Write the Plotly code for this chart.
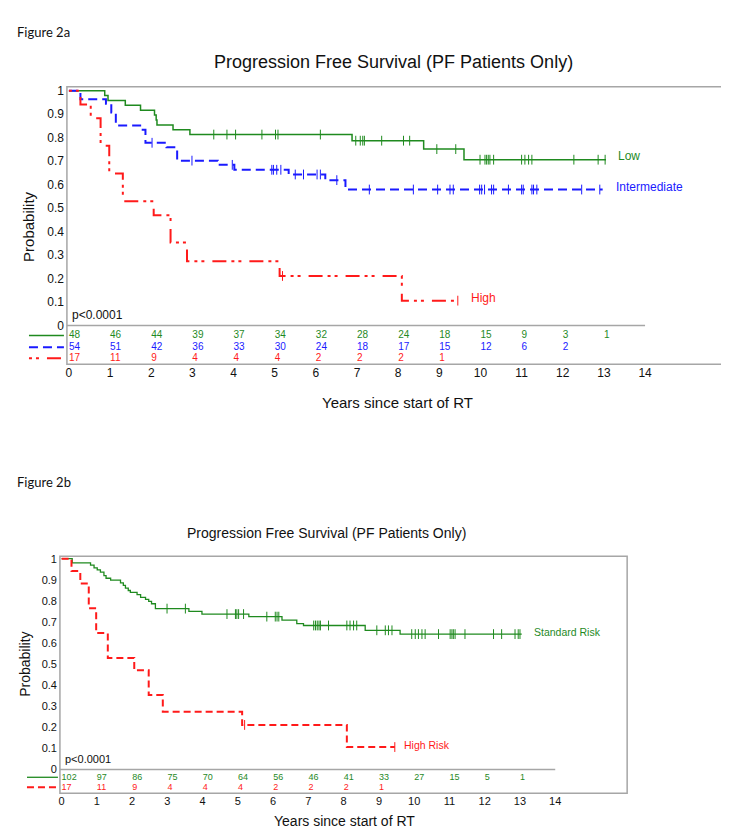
import plotly.graph_objects as go

# ---------------- DATA ----------------
years = list(range(15))
y_ticks = [0, 0.1, 0.2, 0.3, 0.4, 0.5, 0.6, 0.7, 0.8, 0.9, 1.0]
y_tick_text = ["0", "0.1", "0.2", "0.3", "0.4", "0.5", "0.6", "0.7", "0.8", "0.9", "1"]

# Figure 2a - Low
low_t = [0.87, 0.95, 1.37, 1.74, 2.08, 2.12, 2.14, 2.53, 2.94, 6.88, 8.62, 9.60]
low_s = [0.979, 0.958, 0.938, 0.917, 0.896, 0.875, 0.854, 0.833, 0.813, 0.787, 0.751, 0.706]
low_cens = [3.52, 3.84, 4.05, 4.69, 5.02, 5.08, 6.11, 6.97, 7.08, 7.14, 7.18, 7.60, 8.13, 8.28,
            8.94, 9.40, 9.99, 10.11, 10.15, 10.19, 10.23, 10.32, 11.0, 11.08, 11.17, 11.25,
            12.27, 12.86, 13.03]
low_end = 13.05

# Figure 2a - Intermediate
int_t = [0.28, 0.90, 1.03, 1.14, 1.76, 1.86, 2.37, 2.63, 3.62, 4.02, 5.34, 6.23, 6.72]
int_s = [0.963, 0.944, 0.907, 0.852, 0.833, 0.778, 0.759, 0.702, 0.684, 0.663, 0.643, 0.619, 0.579]
int_cens = [2.02, 2.99, 3.97, 4.93, 4.97, 5.05, 5.15, 5.50, 5.70, 6.03, 6.11, 6.51, 7.30, 8.37,
            8.96, 9.26, 9.34, 9.98, 10.03, 10.10, 10.27, 10.32, 10.68, 11.0, 11.04, 11.25,
            11.29, 11.37, 12.46, 12.90]
int_end = 12.97

# Figure 2a / 2b - High
high_t = [0.28, 0.53, 0.77, 0.98, 1.31, 2.06, 2.47, 2.87, 5.12, 8.09]
high_s = [0.941, 0.882, 0.765, 0.647, 0.529, 0.470, 0.353, 0.274, 0.211, 0.106]
high_cens = [5.19, 9.45]
high_end = 9.45

# Figure 2b - Standard Risk
std_t = [0.30, 0.82, 0.92, 1.01, 1.10, 1.20, 1.26, 1.39, 1.67, 1.75, 1.81, 1.89, 1.95, 2.14,
         2.24, 2.38, 2.47, 2.55, 2.66, 3.61, 3.98, 5.31, 6.25, 6.67, 6.86, 8.61, 9.60]
std_s = [0.980, 0.969, 0.956, 0.947, 0.936, 0.920, 0.907, 0.898, 0.885, 0.873, 0.860, 0.849,
         0.840, 0.829, 0.816, 0.807, 0.797, 0.786, 0.763, 0.750, 0.737, 0.725, 0.708, 0.692,
         0.683, 0.660, 0.642]
std_cens = [2.99, 3.51, 4.69, 4.93, 4.97, 5.02, 5.16, 5.82, 6.06, 6.11, 6.16, 7.15, 7.20, 7.25,
            7.30, 7.34, 7.57, 8.09, 8.18, 8.28, 8.37, 8.94, 9.18, 9.27, 9.37, 9.93, 10.03,
            10.12, 10.22, 10.31, 10.69, 11.02, 11.07, 11.11, 11.16, 11.44, 12.25, 12.48,
            12.86, 12.95, 13.0]
std_end = 13.05

# Numbers at risk
low_risk = [48, 46, 44, 39, 37, 34, 32, 28, 24, 18, 15, 9, 3, 1]
int_risk = [54, 51, 42, 36, 33, 30, 24, 18, 17, 15, 12, 6, 2]
high_risk = [17, 11, 9, 4, 4, 4, 2, 2, 2, 1]
std_risk = [102, 97, 86, 75, 70, 64, 56, 46, 41, 33, 27, 15, 5, 1]

# ---------------- STYLE ----------------
W, H = 729, 828
GREEN = "#1f8a1f"
BLUE = "#1a1aff"
RED = "#ff1a1a"
GRAY = "#a6a6a6"
FONT = "Liberation Sans, Arial, sans-serif"


def px(x):
    return x / W


def py(y):
    return (H - y) / H


def km_xy(t, s, end):
    return [0] + list(t) + [end], [1.0] + list(s) + [s[-1]]


def step_at(t, s, tc):
    val = 1.0
    for ti, si in zip(t, s):
        if ti <= tc:
            val = si
    return val


fig = go.Figure()


def add_curve(t, s, cens, end, color, width, dash, xa, ya):
    x, y = km_xy(t, s, end)
    fig.add_trace(go.Scatter(x=x, y=y, mode="lines", line=dict(color=color, width=width, dash=dash, shape="hv"),
                             xaxis=xa, yaxis=ya, hoverinfo="skip", showlegend=False))
    fig.add_trace(go.Scatter(x=cens, y=[step_at(t, s, c) for c in cens], mode="markers",
                             marker=dict(symbol="line-ns", size=7, line=dict(color=color, width=1)),
                             xaxis=xa, yaxis=ya, hoverinfo="skip", showlegend=False))


def add_risk(vals, yv, color, size, xa, ya):
    fig.add_trace(go.Scatter(x=years[:len(vals)], y=[yv] * len(vals), mode="text",
                             text=[str(v) for v in vals], textposition="middle right",
                             textfont=dict(color=color, size=size, family=FONT),
                             xaxis=xa, yaxis=ya, hoverinfo="skip", showlegend=False))


# Panel a
dash_high_a = "3px,4px,3px,8px,14px,5px"
dash_int = "9px,5px"
add_curve(low_t, low_s, low_cens, low_end, GREEN, 1.5, "solid", "x", "y")
add_curve(int_t, int_s, int_cens, int_end, BLUE, 2, dash_int, "x", "y")
add_curve(high_t, high_s, high_cens, high_end, RED, 2, dash_high_a, "x", "y")
add_risk(low_risk, -0.042, GREEN, 10, "x", "y")
add_risk(int_risk, -0.093, BLUE, 10, "x", "y")
add_risk(high_risk, -0.140, RED, 10, "x", "y")

# Panel b
dash_high_b = "7px,4px"
add_curve(std_t, std_s, std_cens, std_end, GREEN, 1.3, "solid", "x2", "y2")
add_curve(high_t, high_s, high_cens, high_end, RED, 2, dash_high_b, "x2", "y2")
add_risk(std_risk, -0.039, GREEN, 9, "x2", "y2")
add_risk(high_risk, -0.086, RED, 9, "x2", "y2")

# Axes geometry (pixel boxes)
A_L, A_R, A_T, A_B = 58, 721, 75, 354
B_L, B_R, B_T, B_B = 51, 619, 547, 785

axis_common = dict(showgrid=False, zeroline=False, showline=False, ticks="")
fig.update_layout(
    width=W, height=H, margin=dict(l=0, r=0, t=0, b=0),
    paper_bgcolor="white", plot_bgcolor="white",
    xaxis=dict(domain=[px(A_L), px(A_R)], range=[-0.0485, 16.04], tickvals=years, anchor="y",
               tickfont=dict(size=12, family=FONT, color="#111"), **axis_common),
    yaxis=dict(domain=[py(A_B), py(A_T)], range=[-0.165, 1.017], tickvals=y_ticks, ticktext=y_tick_text,
               anchor="x", ticklabelstandoff=2, tickfont=dict(size=12, family=FONT, color="#111"),
               **axis_common),
    xaxis2=dict(domain=[px(B_L), px(B_R)], range=[-0.048, 16.04], tickvals=years, anchor="y2",
                tickfont=dict(size=11, family=FONT, color="#111"), **axis_common),
    yaxis2=dict(domain=[py(B_B), py(B_T)], range=[-0.113, 1.011], tickvals=y_ticks, ticktext=y_tick_text,
                anchor="x2", ticklabelstandoff=2, tickfont=dict(size=11, family=FONT, color="#111"),
                **axis_common),
)

shapes = [
    dict(type="rect", xref="paper", yref="paper", x0=px(A_L), x1=px(A_R), y0=py(A_B), y1=py(A_T),
         line=dict(color=GRAY, width=1.5)),
    dict(type="line", xref="x", yref="y", x0=-0.0485, x1=14, y0=0, y1=0, line=dict(color=GRAY, width=1.5)),
    dict(type="rect", xref="paper", yref="paper", x0=px(B_L), x1=px(B_R), y0=py(B_B), y1=py(B_T),
         line=dict(color=GRAY, width=1.5)),
    dict(type="line", xref="x2", yref="y2", x0=-0.048, x1=14, y0=0, y1=0, line=dict(color=GRAY, width=1.5)),
    # legend samples beside numbers at risk
    dict(type="line", xref="paper", yref="paper", x0=px(20), x1=px(55), y0=py(325), y1=py(325),
         line=dict(color=GREEN, width=1.5)),
    dict(type="line", xref="paper", yref="paper", x0=px(20), x1=px(55), y0=py(337), y1=py(337),
         line=dict(color=BLUE, width=2, dash=dash_int)),
    dict(type="line", xref="paper", yref="paper", x0=px(20), x1=px(55), y0=py(348), y1=py(348),
         line=dict(color=RED, width=2, dash=dash_high_a)),
    dict(type="line", xref="paper", yref="paper", x0=px(18), x1=px(49), y0=py(769), y1=py(769),
         line=dict(color=GREEN, width=1.3)),
    dict(type="line", xref="paper", yref="paper", x0=px(18), x1=px(49), y0=py(779), y1=py(779),
         line=dict(color=RED, width=2, dash=dash_high_b)),
]
fig.update_layout(shapes=shapes)

ann = []


def txt(text, x, y, size, color="#111", family=FONT, xanchor="center", angle=0, xref="paper", yref="paper"):
    if xref == "paper":
        x = px(x)
    if yref == "paper":
        y = py(y)
    ann.append(dict(text=text, x=x, y=y, xref=xref, yref=yref, showarrow=False, xanchor=xanchor,
                    yanchor="middle", textangle=angle, font=dict(size=size, color=color, family=family)))


txt("Figure 2a", 6, 20, 13, "#111", "Lato, Carlito, sans-serif", "left")
txt("Progression Free Survival (PF Patients Only)", 385, 50, 18)
txt("Probability", 20, 215, 15, angle=-90)
txt("Years since start of RT", 389, 392, 15)
txt("p<0.0001", 0.03, 0.045, 12, xanchor="left", xref="x", yref="y")
txt("Low", 13.3, 0.72, 12, GREEN, xanchor="left", xref="x", yref="y")
txt("Intermediate", 13.24, 0.59, 12, BLUE, xanchor="left", xref="x", yref="y")
txt("High", 9.71, 0.116, 12, RED, xanchor="left", xref="x", yref="y")

txt("Figure 2b", 6, 472, 13, "#111", "Lato, Carlito, sans-serif", "left")
txt("Progression Free Survival (PF Patients Only)", 318, 524, 14)
txt("Probability", 16, 655, 14, angle=-90)
txt("Years since start of RT", 336, 813, 14)
txt("p<0.0001", 0.03, 0.047, 11, xanchor="left", xref="x2", yref="y2")
txt("Standard Risk", 13.33, 0.652, 10.5, GREEN, xanchor="left", xref="x2", yref="y2")
txt("High Risk", 9.65, 0.118, 10.5, RED, xanchor="left", xref="x2", yref="y2")

fig.update_layout(annotations=ann)
fig.write_html("out.html")
